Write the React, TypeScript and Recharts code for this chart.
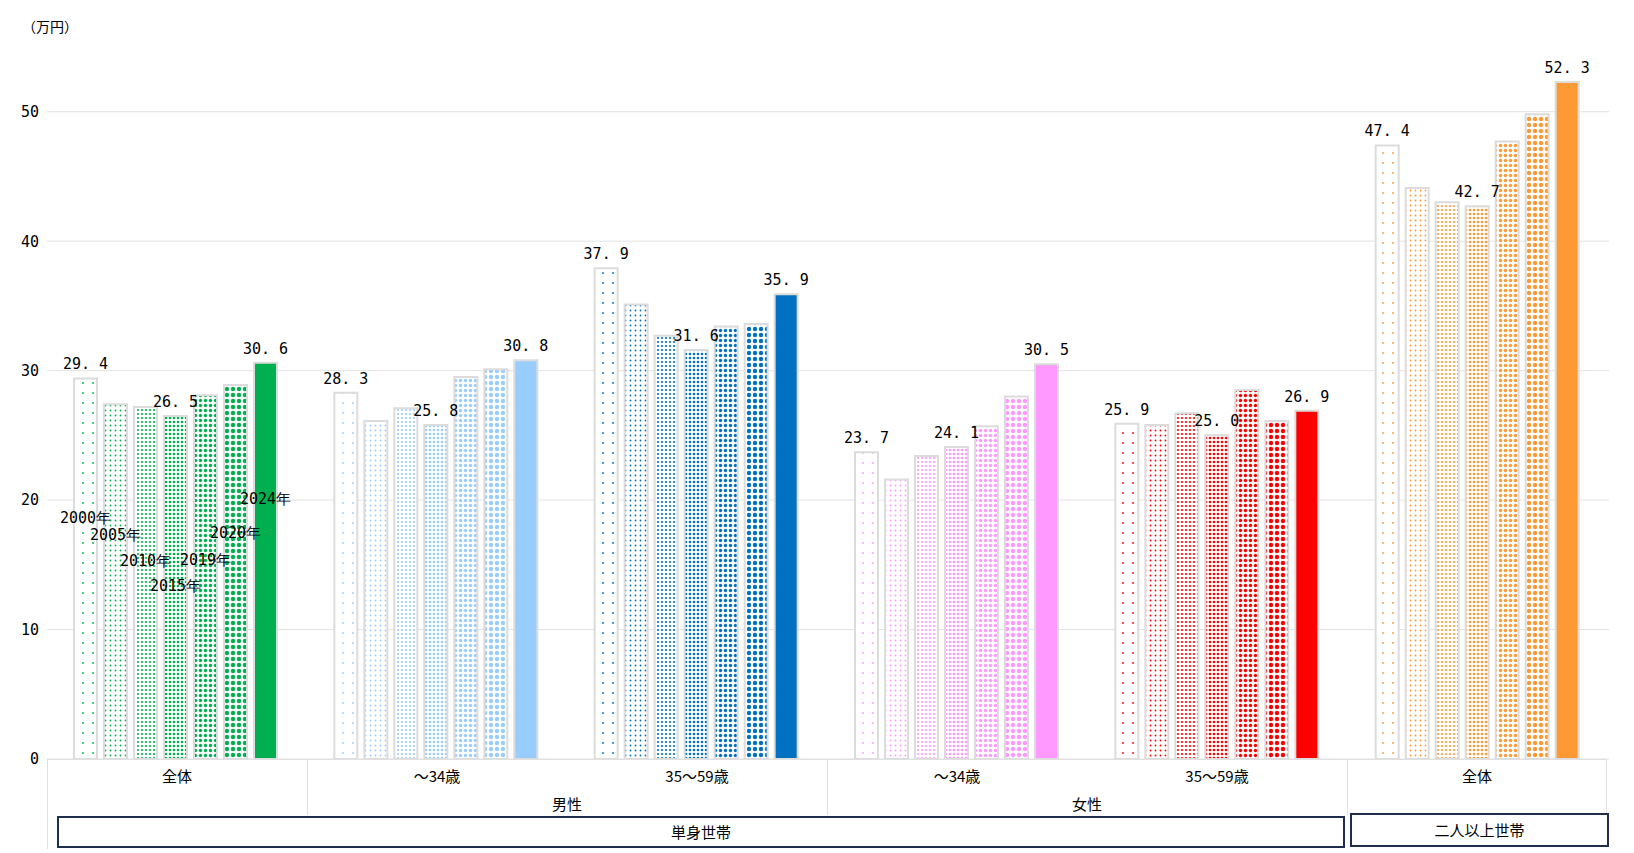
import React from 'react';
import { BarChart, Bar, XAxis, YAxis, CartesianGrid, Cell, LabelList } from 'recharts';

const groups = ['単身全体', '男性～34歳', '男性35～59歳', '女性～34歳', '女性35～59歳', '二人以上全体'];
const years = ['2000年', '2005年', '2010年', '2015年', '2019年', '2020年', '2024年'];
const y2000 = [29.4, 28.3, 37.9, 23.7, 25.9, 47.4];
const y2005 = [27.4, 26.1, 35.1, 21.6, 25.8, 44.1];
const y2010 = [27.2, 27.1, 32.7, 23.4, 26.7, 43.0];
const y2015 = [26.5, 25.8, 31.6, 24.1, 25.0, 42.7];
const y2019 = [28.1, 29.5, 33.4, 25.7, 28.5, 47.7];
const y2020 = [28.9, 30.1, 33.6, 28.0, 26.1, 49.8];
const y2024 = [30.6, 30.8, 35.9, 30.5, 26.9, 52.3];
const colors = ['#00B050', '#99CCFF', '#0070C0', '#FF99FF', '#FF0000', '#FF9933'];
const yearLabelAt = [18.2, 16.9, 14.9, 13.0, 15.0, 17.1, 19.7];
const yTicks = [0, 10, 20, 30, 40, 50];
const row1 = ['全体', '～34歳', '35～59歳', '～34歳', '35～59歳', '全体'];

const series = [y2000, y2005, y2010, y2015, y2019, y2020, y2024];
const data = groups.map((g, gi) => {
  const row: any = { name: g };
  series.forEach((s, i) => (row['v' + i] = s[gi]));
  return row;
});

const patSpec = [
  { s: 10, r: 0.9 },
  { s: 5, r: 0.9 },
  { s: 4, r: 1.1 },
  { s: 4, r: 1.3 },
  { s: 5, r: 1.7 },
  { s: 6, r: 2.2 },
];

const mono = '"DejaVu Sans Mono", monospace';

const makeLabel = (si: number) => (p: any) => {
  const { x, y, width, height, value, index } = p;
  const out: any[] = [];
  if (si === 0 || si === 3 || si === 6) {
    out.push(
      <text key="v" x={x + width / 2} y={y - 9} textAnchor="middle" fontFamily={mono} fontSize={15} fill="#000">
        {value.toFixed(1).replace('.', '. ')}
      </text>
    );
  }
  if (index === 0) {
    const yy = y + height - height * (yearLabelAt[si] / value);
    out.push(
      <text key="y" x={x + width / 2} y={yy} textAnchor="middle" fontFamily={mono} fontSize={15} fill="#000">
        {years[si]}
      </text>
    );
  }
  return <g>{out}</g>;
};

export default function App() {
  const cellBorder = '#e0e0e0';
  const abs = (s: any) => ({ position: 'absolute' as const, ...s });
  const L = 39, CW = 260, T = 751;
  return (
    <div style={{ position: 'relative', width: 1618, height: 845, fontFamily: '"Noto Sans CJK JP", sans-serif' }}>
      <BarChart width={1618} height={845} data={data} margin={{ top: 39, right: 17, bottom: 94, left: 0 }} barCategoryGap={27} barGap={7}>
        <defs>
          {colors.map((c, gi) =>
            patSpec.map((p, i) => (
              <pattern key={gi + '-' + i} id={`p${gi}-${i}`} width={p.s} height={p.s} patternUnits="userSpaceOnUse">
                <rect width={p.s} height={p.s} fill="#fff" />
                <circle cx={p.s / 2} cy={p.s / 2} r={p.r} fill={c} />
              </pattern>
            ))
          )}
        </defs>
        <CartesianGrid vertical={false} stroke="#e3e3e3" horizontalValues={yTicks} />
        <XAxis dataKey="name" tick={false} axisLine={false} tickLine={false} height={0} />
        <YAxis width={39} domain={[0, 55]} ticks={yTicks} axisLine={false} tickLine={false} tick={{ fontSize: 15, fill: '#000', fontFamily: mono }} />
        {series.map((_, si) => (
          <Bar key={si} dataKey={'v' + si} isAnimationActive={false} stroke="#dcdcdc" strokeWidth={2}>
            {data.map((_d, gi) => (
              <Cell key={gi} fill={si === 6 ? colors[gi] : `url(#p${gi}-${si})`} />
            ))}
            <LabelList dataKey={'v' + si} content={makeLabel(si)} />
          </Bar>
        ))}
      </BarChart>
      <div style={abs({ left: 14, top: 8, fontSize: 14 })}>（万円）</div>
      <div style={abs({ left: L, top: T, width: CW * 6, height: 56, borderLeft: `1px solid ${cellBorder}`, borderRight: `1px solid ${cellBorder}`, borderTop: `1px solid ${cellBorder}`, boxSizing: 'border-box' })} />
      {[1, 3, 5].map((k) => (
        <div key={k} style={abs({ left: L + CW * k, top: T, width: 0, height: 56, borderLeft: `1px solid ${cellBorder}` })} />
      ))}
      <div style={abs({ left: L, top: T, width: 0, height: 90, borderLeft: `1px solid ${cellBorder}` })} />
      {row1.map((t, i) => (
        <div key={i} style={abs({ left: L + i * CW, top: 757, width: CW, textAlign: 'center', fontSize: 15 })}>{t}</div>
      ))}
      <div style={abs({ left: L + CW, top: 785, width: CW * 2, textAlign: 'center', fontSize: 15 })}>男性</div>
      <div style={abs({ left: L + CW * 3, top: 785, width: CW * 2, textAlign: 'center', fontSize: 15 })}>女性</div>
      <div style={abs({ left: 49, top: 808, width: 1288, height: 32, border: '2px solid #1f2d4f', boxSizing: 'border-box', textAlign: 'center', fontSize: 15, lineHeight: '28px' })}>単身世帯</div>
      <div style={abs({ left: 1342, top: 805, width: 259, height: 34, border: '2px solid #1f2d4f', boxSizing: 'border-box', textAlign: 'center', fontSize: 15, lineHeight: '30px' })}>二人以上世帯</div>
    </div>
  );
}
